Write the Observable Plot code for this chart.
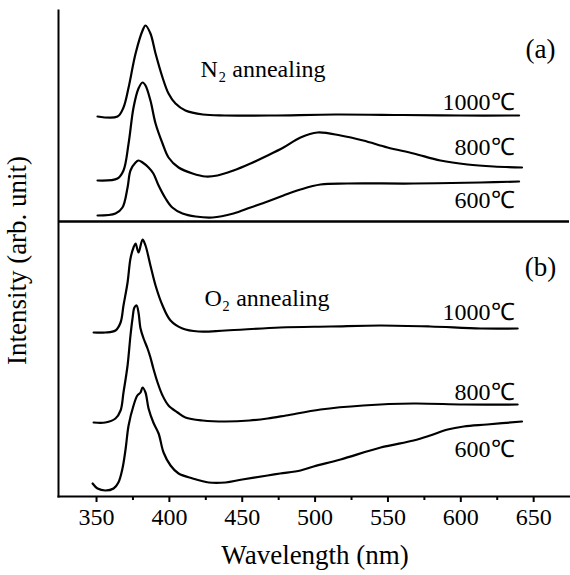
<!DOCTYPE html>
<html>
<head>
<meta charset="utf-8">
<script src="https://cdn.jsdelivr.net/npm/d3@7"></script>
<script src="https://cdn.jsdelivr.net/npm/@observablehq/plot@0.6"></script>
<style>
  html, body { margin: 0; padding: 0; background: #fff; }
  #chart svg, #chart svg text, #chart svg tspan, #chart svg g { font-family: 'Liberation Serif', serif !important; }
</style>
</head>
<body>
<div id="chart"></div>
<script>
// ---- Data (wavelength in nm, intensity in arbitrary units, curves stacked) ----
const n2_1000_wl = [350.7, 364.4, 368.5, 372, 376.8, 381.6, 383.6, 387, 390.5, 395.3, 399.4, 404.2, 411, 423, 438, 470, 514, 560, 600, 640];
const n2_1000_I  = [380, 380, 389, 409, 443, 466, 471, 463, 443, 419, 403, 393, 386, 382, 381, 381, 382, 381.5, 381, 381];

const n2_800_wl = [350.7, 364.4, 368.5, 372, 375.4, 378.8, 381.6, 383.6, 387, 390.5, 395.3, 399.4, 406.3, 415.9, 424.8, 433, 444, 455.7, 467.4, 478.3, 490, 501.7, 517.5, 533, 549.7, 567.6, 586, 604.6, 622.5, 642];
const n2_800_I  = [316, 318, 326, 353, 389, 408, 414, 411, 396, 373, 353, 339, 329, 323, 320, 321, 326, 333, 341, 349, 359, 364, 361, 356, 349, 343, 336, 332, 330, 329];

const n2_600_wl = [350.7, 363, 367.8, 371.3, 373.3, 376.8, 378.8, 381.6, 385.7, 389, 392.6, 397.4, 402, 409, 418, 429.6, 444, 455.7, 467.4, 478.3, 490, 503.7, 522, 567.6, 613.6, 640];
const n2_600_I  = [281, 283, 289, 309, 326, 334, 336, 334, 329, 323, 311, 298, 289, 283, 280, 279, 283, 289, 295, 301, 307, 312, 313, 313, 314, 315];

const o2_1000_wl = [348, 356, 363, 366.5, 368.5, 371.3, 373.3, 375.4, 376.8, 378.8, 381.6, 383.6, 387, 390.5, 395.3, 400.8, 409, 420, 438.5, 476, 510.6, 545, 579, 613.6, 639];
const o2_1000_I  = [164, 164, 166, 174, 191, 214, 238, 249, 253, 244, 257, 251, 231, 211, 191, 176, 168, 165, 166, 169, 170, 171, 170, 168, 168];

const o2_800_wl = [348, 356, 363, 366.5, 368.5, 371.3, 373.3, 374.7, 376, 377.5, 378.8, 380.2, 382.3, 385, 387, 389, 391.9, 395.3, 399.4, 405.6, 411, 422.8, 438.5, 455, 467.4, 480, 503.7, 533, 567.6, 602, 639];
const o2_800_I  = [74, 74, 78, 86, 104, 131, 161, 178, 189, 191, 184, 168, 158, 148, 139, 128, 114, 101, 91, 84, 79, 76, 75, 76, 78, 81, 87, 91, 93, 92, 92];

const o2_600_wl = [347.3, 350.7, 356, 361.7, 365, 367.8, 370, 372, 375.4, 378, 380.2, 381.6, 383.6, 385.7, 389, 392.6, 396, 400.8, 406.3, 416, 427, 438.5, 450, 467.4, 476, 490, 499, 517.5, 545, 567.6, 579, 591, 602, 618, 642];
const o2_600_I  = [13, 8, 6, 8, 14, 28, 48, 71, 91, 101, 104, 109, 104, 88, 74, 63, 44, 31, 23, 18, 14, 14, 17, 21, 23, 26, 30, 37, 49, 56, 61, 67, 70, 72, 75];

const majorTicks = [350, 400, 450, 500, 550, 600, 650];
const minorTicks = [375, 425, 475, 525, 575, 625];

// annotation texts and their anchor positions (data coordinates)
const tempText = ["1000\u2103", "800\u2103", "600\u2103", "1000\u2103", "800\u2103", "600\u2103"];
const tempY = [393.7, 348.7, 295.7, 183.7, 103.7, 46.7];
const tempX = 636.9;
const panelText = ["(a)", "(b)"];
const panelY = [447.6, 229.6];
const panelX = 654.7;
const gasText = ["N\u2082 annealing", "O\u2082 annealing"];
const gasX = [421.4, 424.1];
const gasY = [427.4, 198.4];
const dividerY = 275;

// ---- Build table ----
const seriesDefs = [
  ["N2 1000", n2_1000_wl, n2_1000_I],
  ["N2 800", n2_800_wl, n2_800_I],
  ["N2 600", n2_600_wl, n2_600_I],
  ["O2 1000", o2_1000_wl, o2_1000_I],
  ["O2 800", o2_800_wl, o2_800_I],
  ["O2 600", o2_600_wl, o2_600_I]
];
const data = seriesDefs.flatMap(([s, wl, I]) => wl.map((w, i) => ({series: s, wl: w, I: I[i]})));
const temps = tempText.map((t, i) => ({t, y: tempY[i]}));
const panels = panelText.map((t, i) => ({t, y: panelY[i]}));
const gases = gasText.map((t, i) => ({t, x: gasX[i], y: gasY[i]}));

const serif = "Liberation Serif";

const chart = Plot.plot({
  width: 570,
  height: 575,
  marginLeft: 58,
  marginRight: 1,
  marginTop: 10,
  marginBottom: 79,
  x: {domain: [323.9, 674.6]},
  y: {domain: [0, 486], axis: null},
  style: {fontFamily: serif, fontSize: "24px", color: "black", background: "white"},
  marks: [
    Plot.frame({anchor: "left", stroke: "black", strokeWidth: 2}),
    Plot.frame({anchor: "bottom", stroke: "black", strokeWidth: 2}),
    Plot.ruleY([dividerY], {stroke: "black", strokeWidth: 2.5}),
    Plot.axisX({ticks: majorTicks, tickSize: 6, tickPadding: 5, strokeWidth: 2, label: null, fontSize: 24, fontFamily: serif, tickFormat: d => String(d)}),
    Plot.axisX({ticks: minorTicks, tickSize: 4, strokeWidth: 2, label: null, tickFormat: () => ""}),
    Plot.line(data, {x: "wl", y: "I", z: "series", curve: "catmull-rom", stroke: "black", strokeWidth: 2.2}),
    Plot.text(temps, {x: tempX, y: "y", text: "t", textAnchor: "end", lineAnchor: "middle", fontSize: 24, fontFamily: serif}),
    Plot.text(panels, {x: panelX, y: "y", text: "t", textAnchor: "middle", lineAnchor: "middle", fontSize: 27, fontFamily: serif}),
    Plot.text(gases, {x: "x", y: "y", text: "t", textAnchor: "start", lineAnchor: "middle", fontSize: 24, fontFamily: serif, letterSpacing: 0.5}),
    Plot.text(["Wavelength (nm)"], {x: 500, frameAnchor: "bottom", textAnchor: "middle", lineAnchor: "middle", dy: 59, fontSize: 27, fontFamily: serif, letterSpacing: 0.8}),
    Plot.text(["Intensity (arb. unit)"], {y: 236, frameAnchor: "left", textAnchor: "middle", lineAnchor: "middle", dx: -41, rotate: -90, fontSize: 27, fontFamily: serif, letterSpacing: 0.8})
  ]
});
chart.querySelectorAll("text, g").forEach(el => { el.setAttribute("font-family", serif); el.style.fontFamily = "'Liberation Serif', serif"; });
document.getElementById("chart").appendChild(chart);
</script>
</body>
</html>
